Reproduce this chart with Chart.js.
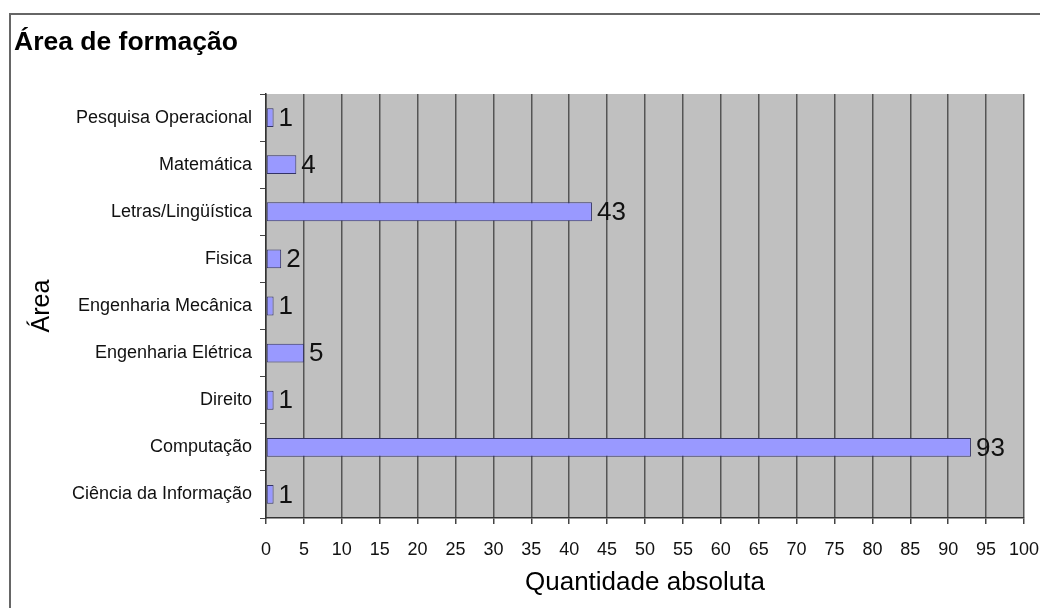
<!DOCTYPE html>
<html>
<head>
<meta charset="utf-8">
<title>Área de formação</title>
<script src="https://cdn.jsdelivr.net/npm/chart.js@4"></script>
<style>
  html, body { margin: 0; padding: 0; background: #ffffff; }
  #wrap { width: 1040px; height: 608px; position: relative; }
</style>
</head>
<body>
<div id="wrap"><canvas id="chart" width="1040" height="608"></canvas></div>
<script>
// Areas of training, listed top to bottom
const areas = [
  'Pesquisa Operacional',
  'Matemática',
  'Letras/Lingüística',
  'Fisica',
  'Engenharia Mecânica',
  'Engenharia Elétrica',
  'Direito',
  'Computação',
  'Ciência da Informação'
];
// Absolute count per area
const counts = [1, 4, 43, 2, 1, 5, 1, 93, 1];
// Axis settings
const xMin = 0;
const xMax = 100;
const xStep = 5;

const FONT = "'Liberation Sans', Arial, Helvetica, sans-serif";

// Page frame and grey plotting background
const framePlugin = {
  id: 'frame',
  beforeDraw(chart) {
    const { ctx, chartArea } = chart;
    ctx.save();
    ctx.fillStyle = '#ffffff';
    ctx.fillRect(0, 0, chart.width, chart.height);
    ctx.strokeStyle = '#666666';
    ctx.lineWidth = 2;
    ctx.beginPath();
    ctx.moveTo(1040, 14);
    ctx.lineTo(10, 14);
    ctx.lineTo(10, 608);
    ctx.stroke();
    ctx.fillStyle = '#c0c0c0';
    ctx.fillRect(chartArea.left, chartArea.top,
                 chartArea.right - chartArea.left, chartArea.bottom - chartArea.top);
    ctx.restore();
  }
};

// Value printed to the right of each bar
const valueLabels = {
  id: 'valueLabels',
  afterDatasetsDraw(chart) {
    const { ctx } = chart;
    const meta = chart.getDatasetMeta(0);
    ctx.save();
    ctx.font = '26px ' + FONT;
    ctx.fillStyle = '#111111';
    ctx.textAlign = 'left';
    ctx.textBaseline = 'middle';
    meta.data.forEach((bar, i) => {
      ctx.fillText(String(counts[i]), bar.x + 5, bar.y + 1);
    });
    ctx.restore();
  }
};

new Chart(document.getElementById('chart'), {
  type: 'bar',
  data: {
    labels: areas,
    datasets: [{
      data: counts,
      backgroundColor: '#9999ff',
      borderColor: '#333366',
      borderWidth: 1,
      borderSkipped: false,
      barPercentage: 0.4,
      categoryPercentage: 1
    }]
  },
  options: {
    indexAxis: 'y',
    responsive: false,
    animation: false,
    events: [],
    layout: { padding: { left: 14, right: 16, top: 0, bottom: 8 } },
    plugins: {
      legend: { display: false },
      tooltip: { enabled: false },
      title: {
        display: true,
        text: 'Área de formação',
        align: 'start',
        color: '#000000',
        font: { family: FONT, size: 26.5, weight: 'bold', lineHeight: 1.2 },
        padding: { top: 27, bottom: 35.2 }
      }
    },
    scales: {
      x: {
        type: 'linear',
        position: 'bottom',
        min: xMin,
        max: xMax,
        afterFit(scale) {
          scale.height = 82;
          // let the last tick label run into the right margin
          scale.paddingLeft = 0;
          scale.paddingRight = 0;
        },
        ticks: {
          stepSize: xStep,
          color: '#111111',
          font: { family: FONT, size: 18 },
          padding: 15,
          maxRotation: 0,
          autoSkip: false
        },
        grid: {
          color: '#555555',
          lineWidth: 1.5,
          drawTicks: true,
          tickLength: 6,
          tickColor: '#444444'
        },
        border: { display: true, color: '#333333', width: 1.5 },
        title: {
          display: true,
          text: 'Quantidade absoluta',
          color: '#000000',
          font: { family: FONT, size: 26 },
          padding: { top: 2, bottom: 2 }
        }
      },
      y: {
        type: 'category',
        position: 'left',
        afterFit(scale) { scale.width = 252; },
        ticks: {
          color: '#111111',
          font: { family: FONT, size: 18 },
          padding: 8,
          autoSkip: false
        },
        grid: {
          offset: true,
          drawOnChartArea: false,
          drawTicks: true,
          tickLength: 6,
          color: '#444444'
        },
        border: { display: true, color: '#333333', width: 1.5 },
        title: {
          display: true,
          text: 'Área',
          color: '#000000',
          font: { family: FONT, size: 25 },
          padding: { top: 13, bottom: 0 }
        }
      }
    }
  },
  plugins: [framePlugin, valueLabels]
});
</script>
</body>
</html>
